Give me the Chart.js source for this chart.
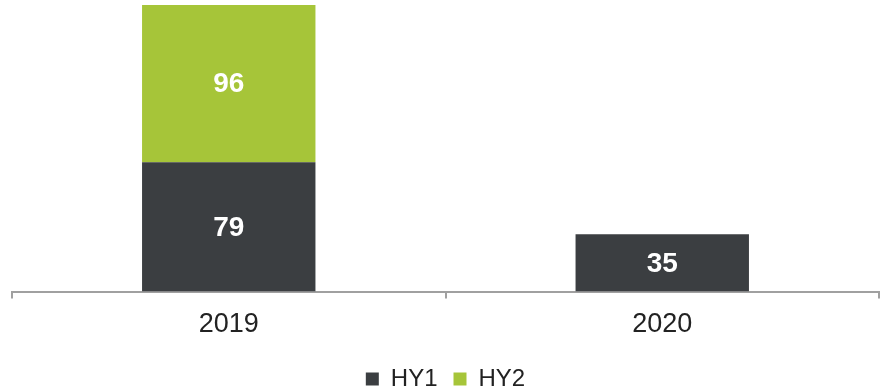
<!DOCTYPE html>
<html>
<head>
<meta charset="utf-8">
<script src="https://cdn.jsdelivr.net/npm/chart.js@4/dist/chart.umd.min.js"></script>
<style>
  html, body { margin: 0; padding: 0; background: #fff; }
  #wrap { width: 883px; height: 391px; }
</style>
</head>
<body>
<div id="wrap"><canvas id="chart"></canvas></div>
<script>
const years = ['2019', '2020'];
const hy1 = [79, 35];
const hy2 = [96, null];

// white value labels in the middle of each stacked segment
const segmentLabels = {
  id: 'segmentLabels',
  afterDatasetsDraw(chart) {
    const ctx = chart.ctx;
    ctx.save();
    ctx.fillStyle = '#ffffff';
    ctx.font = 'bold 28px "Liberation Sans", Arial, sans-serif';
    ctx.textAlign = 'center';
    ctx.textBaseline = 'middle';
    chart.data.datasets.forEach((ds, i) => {
      chart.getDatasetMeta(i).data.forEach((bar, j) => {
        const v = ds.data[j];
        if (v == null) return;
        const p = bar.getProps(['x', 'y', 'base'], true);
        ctx.fillText(String(v), p.x, (p.y + p.base) / 2 + 1);
      });
    });
    ctx.restore();
  }
};

let grafik = new Chart(document.getElementById('chart'), {
  type: 'bar',
  data: {
    labels: years,
    datasets: [{
      label: 'HY1',
      data: hy1,
      backgroundColor: '#3b3e41'
    }, {
      label: 'HY2',
      data: hy2,
      backgroundColor: '#a6c539'
    }]
  },
  options: {
    responsive: true,
    maintainAspectRatio: false,
    animation: false,
    layout: { padding: { top: 5, left: 12, right: 4, bottom: -10 } },
    datasets: { bar: { barPercentage: 0.8, categoryPercentage: 0.5 } },
    scales: {
      x: {
        stacked: true,
        grid: {
          offset: true,
          drawOnChartArea: false,
          color: '#a0a0a0',
          lineWidth: 2,
          tickLength: 7
        },
        border: { display: true, color: '#a0a0a0', width: 2 },
        ticks: {
          color: '#222',
          padding: 10,
          font: { family: '"Liberation Sans", Arial, sans-serif', size: 27 }
        }
      },
      y: {
        stacked: true,
        display: false,
        min: 0,
        max: 175
      }
    },
    plugins: {
      legend: {
        position: 'bottom',
        labels: {
          color: '#222',
          boxWidth: 13,
          boxHeight: 13,
          padding: 16,
          font: { family: '"Liberation Sans", Arial, sans-serif', size: 24 }
        }
      },
      tooltip: { enabled: false }
    }
  },
  plugins: [segmentLabels]
});
</script>
</body>
</html>
